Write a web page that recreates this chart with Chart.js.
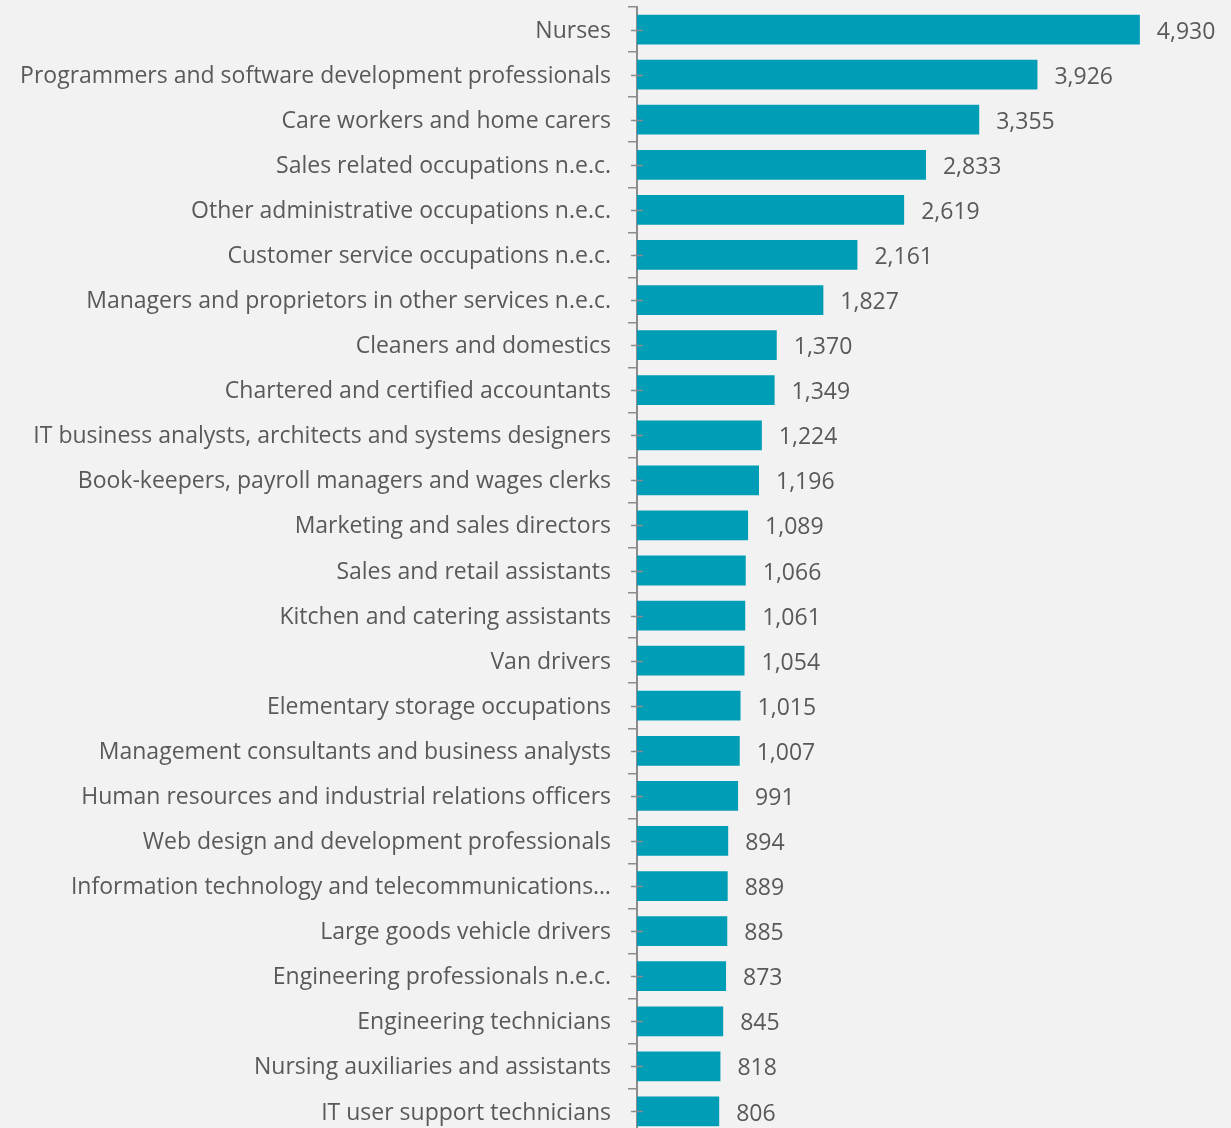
<!DOCTYPE html>
<html>
<head>
<meta charset="utf-8">
<script src="https://cdn.jsdelivr.net/npm/chart.js@4/dist/chart.umd.min.js"></script>
<style>
  html, body { margin: 0; padding: 0; background: #f2f2f2; overflow: hidden; }
  canvas { display: block; }
</style>
</head>
<body>
<canvas id="chart" width="1231" height="1134"></canvas>
<script>
// Occupations ranked by count
const occupations = [
  'Nurses',
  'Programmers and software development professionals',
  'Care workers and home carers',
  'Sales related occupations n.e.c.',
  'Other administrative occupations n.e.c.',
  'Customer service occupations n.e.c.',
  'Managers and proprietors in other services n.e.c.',
  'Cleaners and domestics',
  'Chartered and certified accountants',
  'IT business analysts, architects and systems designers',
  'Book-keepers, payroll managers and wages clerks',
  'Marketing and sales directors',
  'Sales and retail assistants',
  'Kitchen and catering assistants',
  'Van drivers',
  'Elementary storage occupations',
  'Management consultants and business analysts',
  'Human resources and industrial relations officers',
  'Web design and development professionals',
  'Information technology and telecommunications\u2026',
  'Large goods vehicle drivers',
  'Engineering professionals n.e.c.',
  'Engineering technicians',
  'Nursing auxiliaries and assistants',
  'IT user support technicians'
];

const counts = [
  4930, 3926, 3355, 2833, 2619, 2161, 1827, 1370, 1349, 1224,
  1196, 1089, 1066, 1061, 1054, 1015, 1007, 991, 894, 889,
  885, 873, 845, 818, 806
];

const FONT_FAMILY = '"Open Sans", sans-serif';
const FONT_SIZE = 23;
const TEXT_COLOR = '#595959';
const AXIS_COLOR = '#8c8c8c';

// Value labels at the end of each bar, plus small cross ticks at each category centre
const barDecor = {
  id: 'barDecor',
  afterDatasetsDraw(chart) {
    const ctx = chart.ctx;
    const meta = chart.getDatasetMeta(0);
    const yScale = chart.scales.y;
    ctx.save();
    ctx.font = FONT_SIZE + 'px ' + FONT_FAMILY;
    ctx.fillStyle = TEXT_COLOR;
    ctx.textAlign = 'left';
    ctx.textBaseline = 'middle';
    meta.data.forEach((bar, i) => {
      ctx.fillText(counts[i].toLocaleString('en-US'), bar.x + 17, bar.y + 2.5);
    });
    ctx.strokeStyle = AXIS_COLOR;
    ctx.lineWidth = 1.5;
    const x0 = chart.chartArea.left;
    occupations.forEach((_, i) => {
      const y = Math.round(yScale.getPixelForValue(i)) + 0.5;
      ctx.beginPath();
      ctx.moveTo(x0 - 6, y);
      ctx.lineTo(x0 + 6, y);
      ctx.stroke();
    });
    ctx.restore();
  }
};

new Chart(document.getElementById('chart'), {
  type: 'bar',
  data: {
    labels: occupations,
    datasets: [{
      data: counts,
      backgroundColor: '#009eb6',
      borderWidth: 0,
      categoryPercentage: 0.66,
      barPercentage: 1.0
    }]
  },
  options: {
    indexAxis: 'y',
    responsive: false,
    animation: false,
    events: [],
    layout: { padding: { top: 7, right: 84, bottom: 0, left: 0 } },
    plugins: {
      legend: { display: false },
      tooltip: { enabled: false }
    },
    scales: {
      x: {
        display: false,
        min: 0,
        max: 5000
      },
      y: {
        afterFit(scale) {
          scale.width = 637;
          scale.paddingTop = 0;
          scale.paddingBottom = 0;
        },
        grid: {
          display: true,
          drawOnChartArea: false,
          drawTicks: true,
          tickLength: 9,
          offset: true,
          color: AXIS_COLOR,
          lineWidth: 1.5
        },
        border: { display: true, color: AXIS_COLOR, width: 2 },
        ticks: {
          autoSkip: false,
          padding: 17,
          labelOffset: 1.5,
          color: TEXT_COLOR,
          font: { family: FONT_FAMILY, size: FONT_SIZE }
        }
      }
    }
  },
  plugins: [barDecor]
});
</script>
</body>
</html>
